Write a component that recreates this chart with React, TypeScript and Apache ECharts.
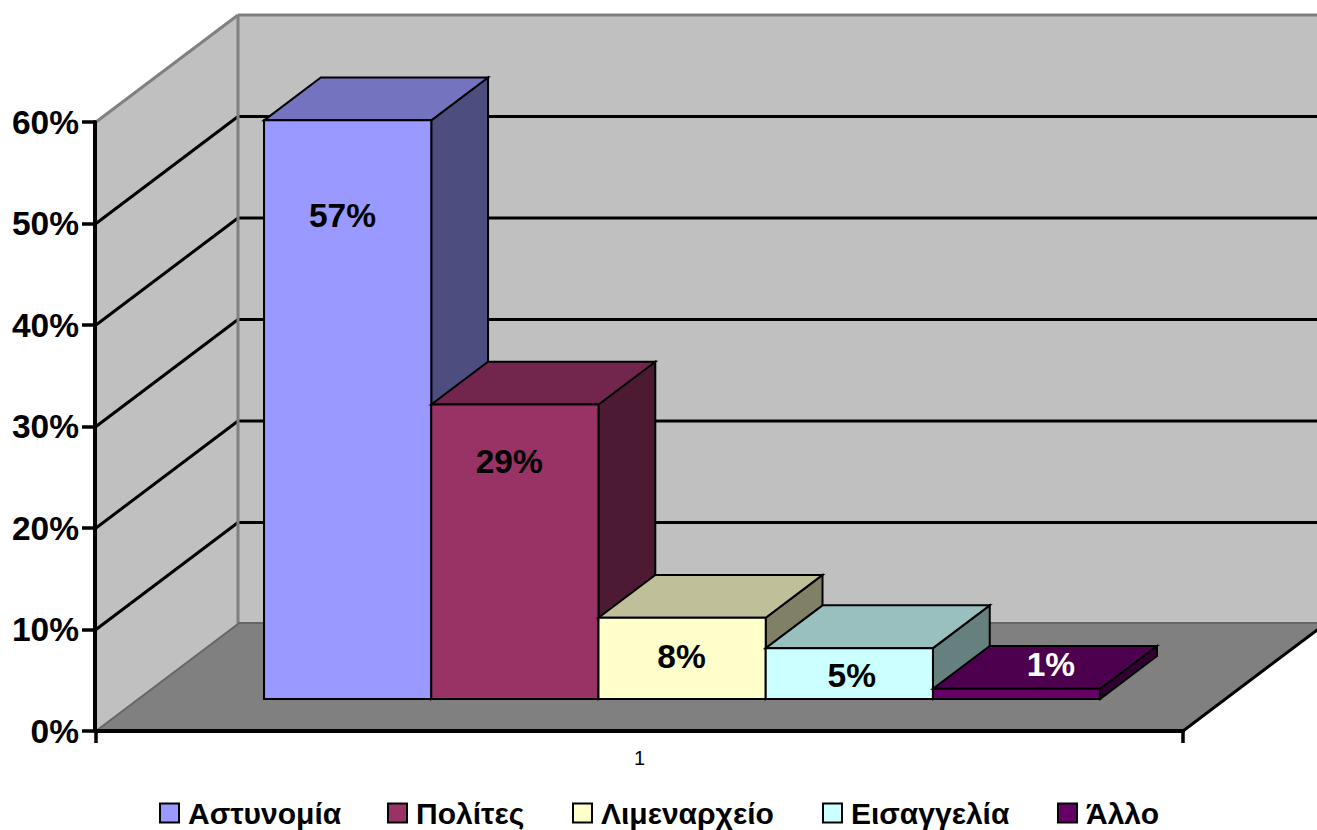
import React, { useEffect, useRef } from "react";
import * as echarts from "echarts";

const categories = ["1"];
const seriesNames = ["Αστυνομία", "Πολίτες", "Λιμεναρχείο", "Εισαγγελία", "Άλλο"];
const seriesValues = [57, 29, 8, 5, 1];
const seriesColors = ["#9999FF", "#993366", "#FFFFCC", "#CCFFFF", "#660066"];
const labelColors = ["#000", "#000", "#000", "#000", "#fff"];
const yTicks = [10, 20, 30, 40, 50];
const Y_MAX = 60;

// Layout of the oblique projection (pixels per full chart depth)
const DEPTH_X = 142;
const DEPTH_Y = -107;
const BAR_FRONT = 0.3; // fraction of the depth at which a bar's front stands
const BAR_DEPTH = 0.4; // fraction of the depth that a bar occupies
const GAP_BARS = 0.75; // gap on each side of the cluster, in bar widths
// Label centres relative to the bar's left edge and its top edge
const labelNudge: [number, number][] = [
  [78.5, 95],
  [78, 57],
  [83, 39],
  [86, 27],
  [118, -24],
];
const legendLefts = [159, 387, 572, 822, 1057];
const FONT = "Liberation Sans";

function shade(hex: string, k: number) {
  const n = parseInt(hex.slice(1), 16);
  const c = (s: number) => Math.round(((n >> s) & 255) * k);
  return `rgb(${c(16)},${c(8)},${c(0)})`;
}

function renderWalls(_params: any, api: any) {
  const band = api.size([1, 0])[0];
  const centre = api.coord([0, 0]);
  const x0 = centre[0] - band / 2;
  const x1 = centre[0] + band / 2;
  const y0 = centre[1];
  const yTop = api.coord([0, Y_MAX])[1];
  const gray = "#808080";
  const poly = (points: number[][], style: any) => ({ type: "polygon", shape: { points }, style });
  const line = (a: number[], b: number[], stroke: string, lineWidth: number) => ({
    type: "line",
    shape: { x1: a[0], y1: a[1], x2: b[0], y2: b[1] },
    style: { stroke, lineWidth, fill: null },
  });
  const children: any[] = [
    poly(
      [[x0 + DEPTH_X, yTop + DEPTH_Y], [x1 + DEPTH_X, yTop + DEPTH_Y], [x1 + DEPTH_X, y0 + DEPTH_Y], [x0 + DEPTH_X, y0 + DEPTH_Y]],
      { fill: "#C0C0C0" }
    ),
    poly(
      [[x0, yTop], [x0 + DEPTH_X, yTop + DEPTH_Y], [x0 + DEPTH_X, y0 + DEPTH_Y], [x0, y0]],
      { fill: "#C0C0C0" }
    ),
    poly(
      [[x0, y0], [x1, y0], [x1 + DEPTH_X, y0 + DEPTH_Y], [x0 + DEPTH_X, y0 + DEPTH_Y]],
      { fill: "#808080" }
    ),
  ];
  yTicks.forEach((v) => {
    const y = api.coord([0, v])[1];
    children.push(line([x0, y], [x0 + DEPTH_X, y + DEPTH_Y], "#000", 3));
    children.push(line([x0 + DEPTH_X, y + DEPTH_Y], [x1 + DEPTH_X, y + DEPTH_Y], "#000", 3));
  });
  children.push(line([x0, yTop], [x0 + DEPTH_X, yTop + DEPTH_Y], gray, 3));
  children.push(line([x0 + DEPTH_X, yTop + DEPTH_Y], [x1 + DEPTH_X, yTop + DEPTH_Y], gray, 3));
  children.push(line([x0 + DEPTH_X, yTop + DEPTH_Y], [x0 + DEPTH_X, y0 + DEPTH_Y], gray, 3));
  children.push(line([x0 + DEPTH_X, y0 + DEPTH_Y - 1], [x1 + DEPTH_X, y0 + DEPTH_Y - 1], "#666", 2));
  children.push(line([x0, y0], [x0 + DEPTH_X, y0 + DEPTH_Y], "#666", 2));
  children.push(line([x1, y0], [x1 + DEPTH_X, y0 + DEPTH_Y], "#000", 3));
  return { type: "group", children };
}

function makeBar(i: number) {
  return (_params: any, api: any) => {
    const band = api.size([1, 0])[0];
    const base = api.coord([0, 0]);
    const top = api.coord([0, api.value(1)]);
    const barW = band / (seriesValues.length + 2 * GAP_BARS);
    const left = base[0] - band / 2 + barW * (GAP_BARS + i) + DEPTH_X * BAR_FRONT;
    const right = left + barW;
    const yB = base[1] + DEPTH_Y * BAR_FRONT;
    const yT = top[1] + DEPTH_Y * BAR_FRONT;
    const dx = DEPTH_X * BAR_DEPTH;
    const dy = DEPTH_Y * BAR_DEPTH;
    const color = seriesColors[i];
    const edge = { stroke: "#000", lineWidth: 2, lineJoin: "miter" };
    return {
      type: "group",
      children: [
        {
          type: "polygon",
          shape: { points: [[right, yT], [right + dx, yT + dy], [right + dx, yB + dy], [right, yB]] },
          style: { fill: shade(color, 0.5), ...edge },
        },
        {
          type: "polygon",
          shape: { points: [[left, yT], [left + dx, yT + dy], [right + dx, yT + dy], [right, yT]] },
          style: { fill: shade(color, 0.75), ...edge },
        },
        {
          type: "polygon",
          shape: { points: [[left, yT], [right, yT], [right, yB], [left, yB]] },
          style: { fill: color, ...edge },
        },
        {
          type: "text",
          style: {
            x: left + labelNudge[i][0],
            y: yT + labelNudge[i][1],
            text: `${api.value(1)}%`,
            fill: labelColors[i],
            font: `bold 33.5px "${FONT}"`,
            align: "center",
            verticalAlign: "middle",
          },
        },
      ],
    };
  };
}

export default function App() {
  const ref = useRef<HTMLDivElement>(null);
  useEffect(() => {
    if (!ref.current) return;
    const chart = echarts.init(ref.current, undefined, { renderer: "svg" });
    chart.setOption({
      animation: false,
      backgroundColor: "#fff",
      textStyle: { fontFamily: FONT },
      grid: { left: 96, right: 134, top: 122, bottom: 99 },
      legend: seriesNames.map((name, i) => ({
        data: [name],
        left: legendLefts[i],
        top: 798,
        itemWidth: 19,
        itemHeight: 19,
        icon: "rect",
        padding: 0,
        textStyle: { fontFamily: FONT, fontWeight: "bold", fontSize: 30, color: "#000", padding: [0, 0, 0, 4] },
      })),
      xAxis: {
        type: "category",
        data: categories,
        z: 6,
        axisLine: { lineStyle: { color: "#000", width: 4 } },
        axisTick: { show: true, length: 12, lineStyle: { color: "#000", width: 3.5 } },
        axisLabel: { color: "#000", fontSize: 20, margin: 17, fontFamily: FONT },
        splitLine: { show: false },
      },
      yAxis: {
        type: "value",
        min: 0,
        max: Y_MAX,
        interval: 10,
        z: 6,
        offset: 1,
        axisLine: { show: true, lineStyle: { color: "#000", width: 4 } },
        axisTick: { show: true, length: 13, lineStyle: { color: "#000", width: 3.5 } },
        axisLabel: {
          color: "#000",
          fontSize: 33.5,
          fontWeight: "bold",
          fontFamily: FONT,
          margin: 16,
          padding: [4, 0, 0, 0],
          formatter: "{value}%",
        },
        splitLine: { show: false },
      },
      series: [
        {
          type: "custom",
          name: "walls",
          silent: true,
          z: 1,
          renderItem: renderWalls,
          data: [[0, 0]],
          encode: { x: 0, y: 1 },
        },
        ...seriesNames.map((name, i) => ({
          type: "custom",
          name,
          z: 2 + i,
          renderItem: makeBar(i),
          data: [[0, seriesValues[i]]],
          encode: { x: 0, y: 1 },
          itemStyle: { color: seriesColors[i], borderColor: "#000", borderWidth: 1.5 },
        })),
      ],
    });
    return () => chart.dispose();
  }, []);
  return <div ref={ref} style={{ position: "absolute", left: 0, top: 0, width: 1317, height: 830 }} />;
}
